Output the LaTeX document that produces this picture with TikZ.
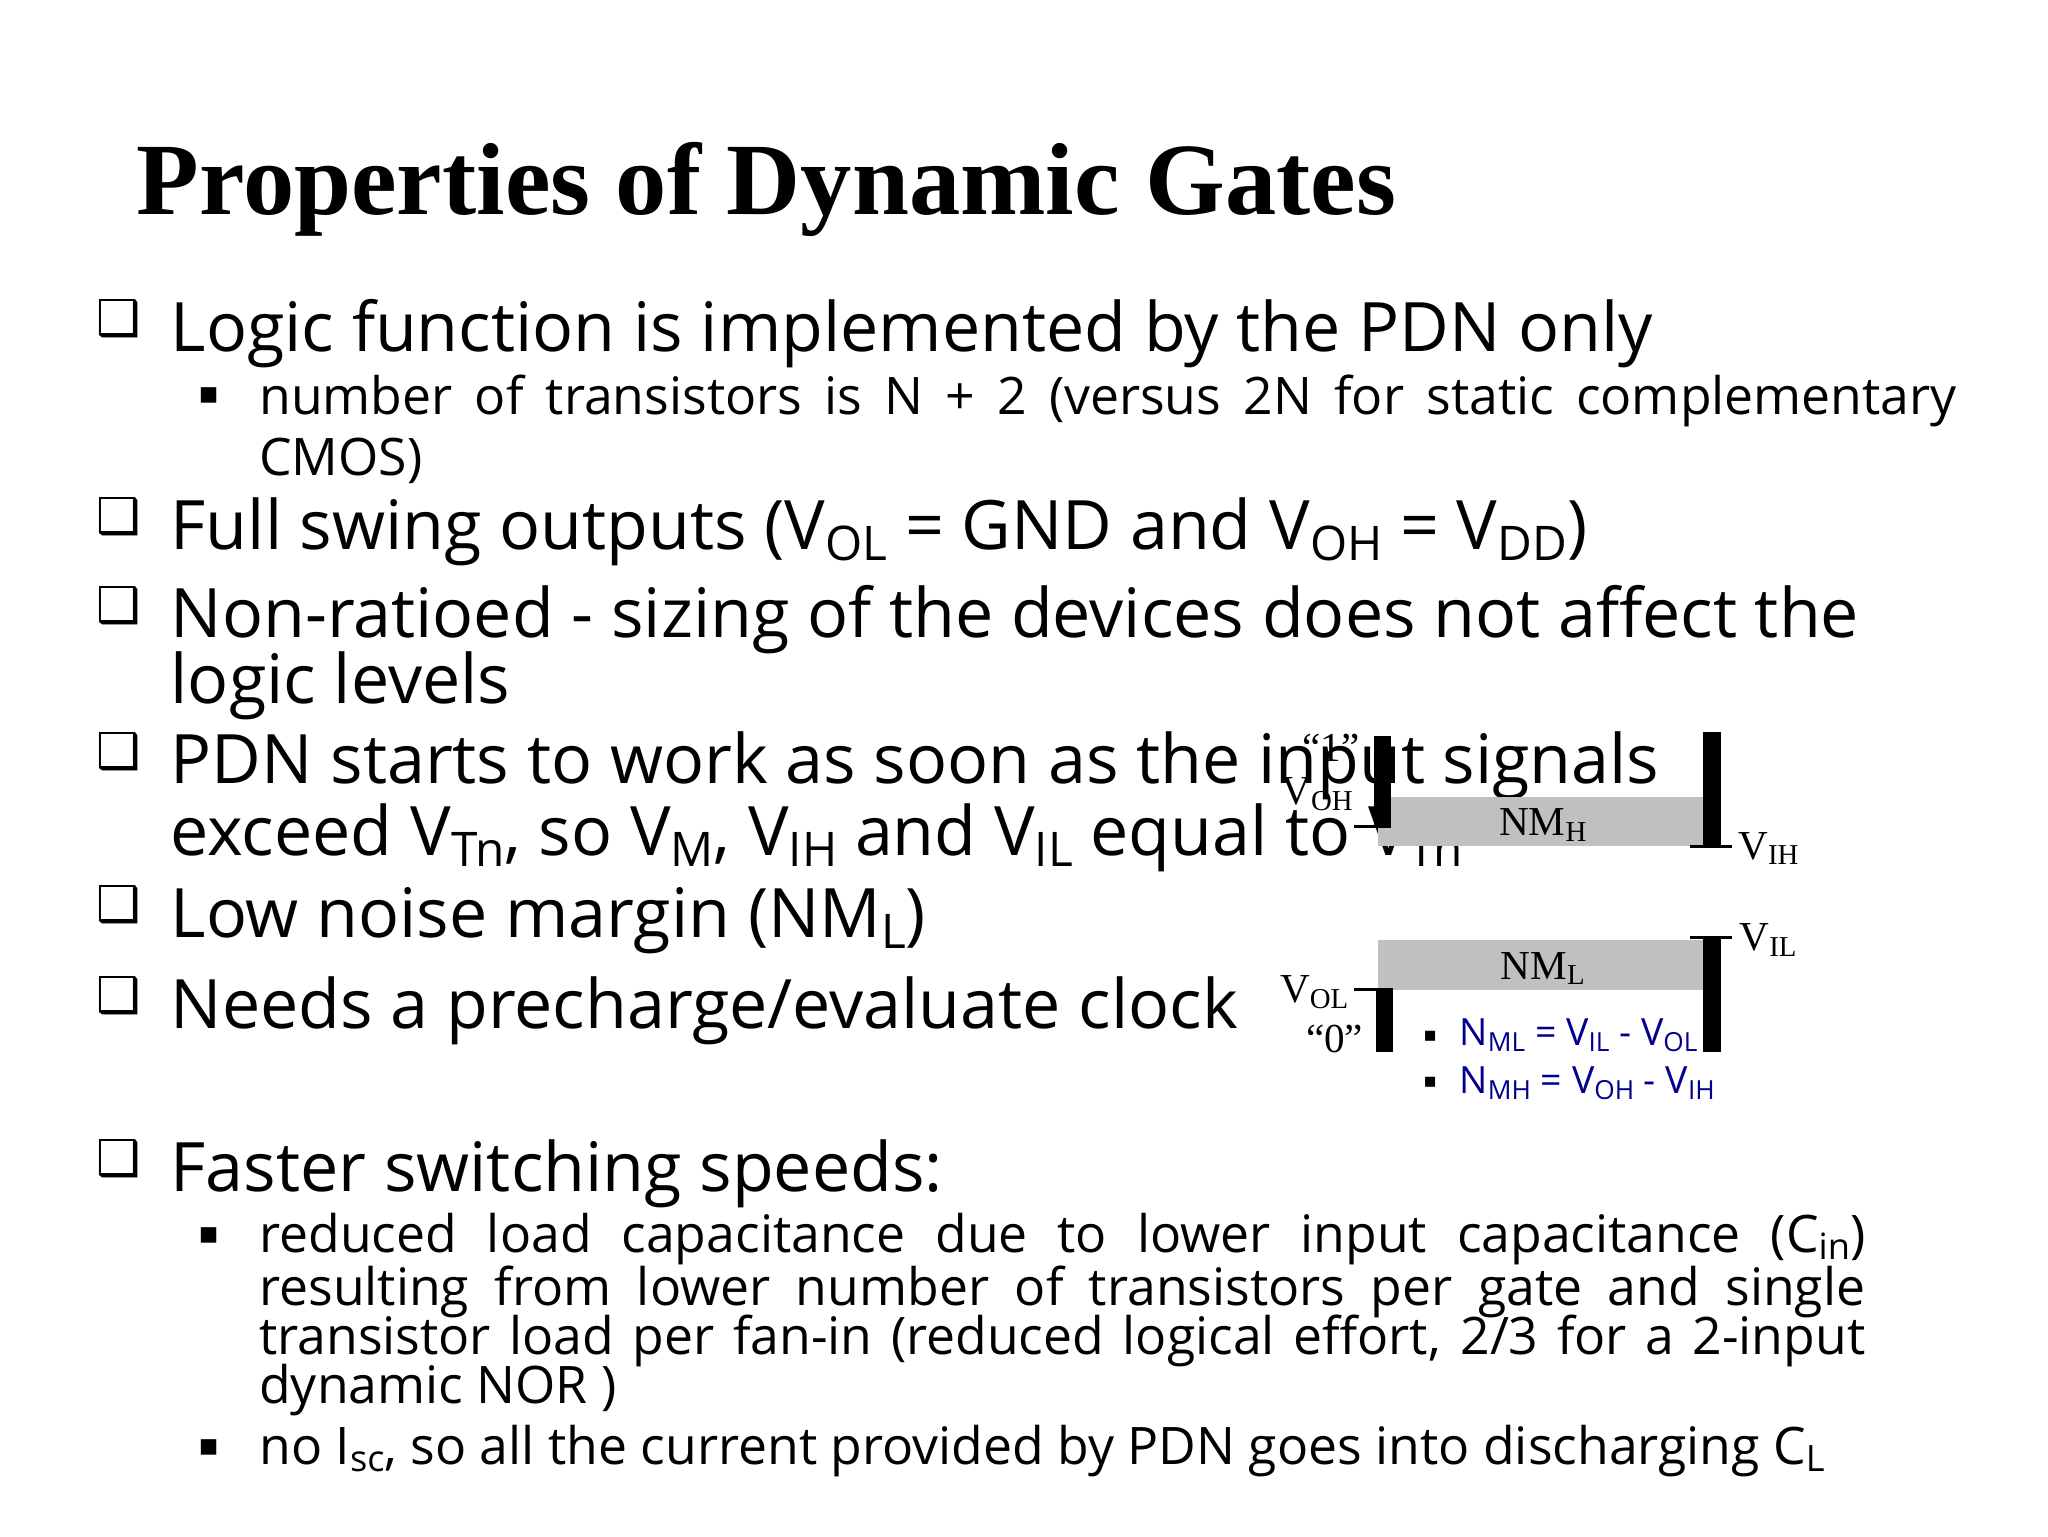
\documentclass[tikz,border=0pt]{standalone}
\usepackage{fontspec}
\usepackage{graphicx}
\setmainfont{Open Sans}
\newfontfamily\serif{Liberation Serif}
\newfontfamily\djfont{DejaVu Sans}
\newcommand\sbs[1]{\raisebox{-0.3ex}{\scalebox{0.7}{#1}}}
\newcommand\ssb[1]{\raisebox{-0.25ex}{\scalebox{0.7}{#1}}}
\definecolor{navyb}{RGB}{0,0,140}
\definecolor{nmgray}{RGB}{192,192,192}
\tikzset{
 mtxt/.style={anchor=base west,inner sep=0pt,font=\fontsize{74.5}{80}\selectfont},
 stxt/.style={anchor=base west,inner sep=0pt,font=\fontsize{56.5}{60}\selectfont},
 chk/.style={anchor=base west,inner sep=0pt,font=\djfont\bfseries\fontsize{54}{60}\selectfont},
 sq/.style={anchor=base west,inner sep=0pt,font=\djfont\fontsize{34}{40}\selectfont},
 dlab/.style={inner sep=0pt,font=\serif\fontsize{45}{50}\selectfont},
 blue/.style={anchor=base west,inner sep=0pt,text=navyb,font=\fontsize{41}{44}\selectfont},
 bar/.style={fill=black},
 gbox/.style={fill=nmgray},
 tick/.style={line width=3pt}
}
\begin{document}
\begin{tikzpicture}[x=0.05cm,y=-0.05cm]
\useasboundingbox[fill=white] (0,0) rectangle (1573,1180);
\node[anchor=base west,inner sep=0pt,font=\serif\bfseries\fontsize{112}{120}\selectfont] (title) at (105,165) {Properties of Dynamic Gates};
% bullets
\foreach \y/\n in {258/c1,410/c2,478/c3,590/c4,708/c5,778/c6,903/c7} \node[chk] (\n) at (74,\y) {❑};
\node[mtxt] (l1) at (131,270) {Logic function is implemented by the PDN only};
\node[sq] (s1) at (152,310) {▪};
\node[stxt] (l1a) at (199,318) {\makebox[1855pt][s]{number of transistors is N + 2 (versus 2N for static complementary}};
\node[stxt] (l1b) at (199,365) {CMOS)};
\node[mtxt] (l2) at (131,422) {Full swing outputs (V\sbs{OL} = GND and V\sbs{OH} = V\sbs{DD})};
\node[mtxt] (l3) at (131,490) {Non-ratioed - sizing of the devices does not affect the};
\node[mtxt] (l3b) at (131,540) {logic levels};
\node[mtxt] (l4) at (131,602) {PDN starts to work as soon as the input signals};
\node[mtxt] (l4b) at (131,657) {exceed V\sbs{Tn}, so V\sbs{M}, V\sbs{IH} and V\sbs{IL} equal to V\sbs{Tn}};
\node[mtxt] (l5) at (131,720) {Low noise margin (NM\sbs{L})};
\node[mtxt] (l6) at (131,790) {Needs a precharge/evaluate clock};
\node[mtxt] (l7) at (131,915) {Faster switching speeds:};
\node[sq] (s2) at (152,955) {▪};
\node[stxt] (l7a) at (199,962) {\makebox[1755pt][s]{reduced load capacitance due to lower input capacitance (C\ssb{in})}};
\node[stxt] (l7b) at (199,1003) {\makebox[1755pt][s]{resulting from lower number of transistors per gate and single}};
\node[stxt] (l7c) at (199,1040) {\makebox[1755pt][s]{transistor load per fan-in (reduced logical effort, 2/3 for a 2-input}};
\node[stxt] (l7d) at (199,1078) {dynamic NOR )};
\node[sq] (s3) at (152,1118) {▪};
\node[stxt] (l7e) at (199,1125) {no I\ssb{sc}, so all the current provided by PDN goes into discharging C\ssb{L}};
% diagram
\fill[gbox] (1058,612) rectangle (1308,650);
\fill[gbox] (1058,722) rectangle (1308,760);
\fill[bar] (1055,565) rectangle (1068,635);
\fill[bar] (1308,562) rectangle (1322,650);
\fill[bar] (1308,720) rectangle (1322,808);
\fill[bar] (1057,760) rectangle (1070,808);
\draw[tick] (1040,635) -- (1068,635);
\draw[tick] (1298,650) -- (1330,650);
\draw[tick] (1298,720) -- (1330,720);
\draw[tick] (1040,760) -- (1070,760);
\node[dlab,anchor=base] (nmh) at (1185,642) {NM\sbs{H}};
\node[dlab,anchor=base] (nml) at (1185,752) {NM\sbs{L}};
\node[dlab,anchor=base west] (one) at (1000,585) {“1”};
\node[dlab,anchor=base west] (voh) at (984,618) {V\sbs{OH}};
\node[dlab,anchor=base west] (vih) at (1335,660) {V\sbs{IH}};
\node[dlab,anchor=base west] (vil) at (1336,730) {V\sbs{IL}};
\node[dlab,anchor=base west] (vol) at (983,770) {V\sbs{OL}};
\node[dlab,anchor=base west] (zero) at (1003,808) {“0”};
\node[sq,font=\djfont\fontsize{22}{24}\selectfont] (b1) at (1093,800) {▪};
\node[blue] (f1) at (1121,803) {N\sbs{ML} = V\sbs{IL} - V\sbs{OL}};
\node[sq,font=\djfont\fontsize{22}{24}\selectfont] (b2) at (1093,835) {▪};
\node[blue] (f2) at (1121,840) {N\sbs{MH} = V\sbs{OH} - V\sbs{IH}};
\end{tikzpicture}
\end{document}
